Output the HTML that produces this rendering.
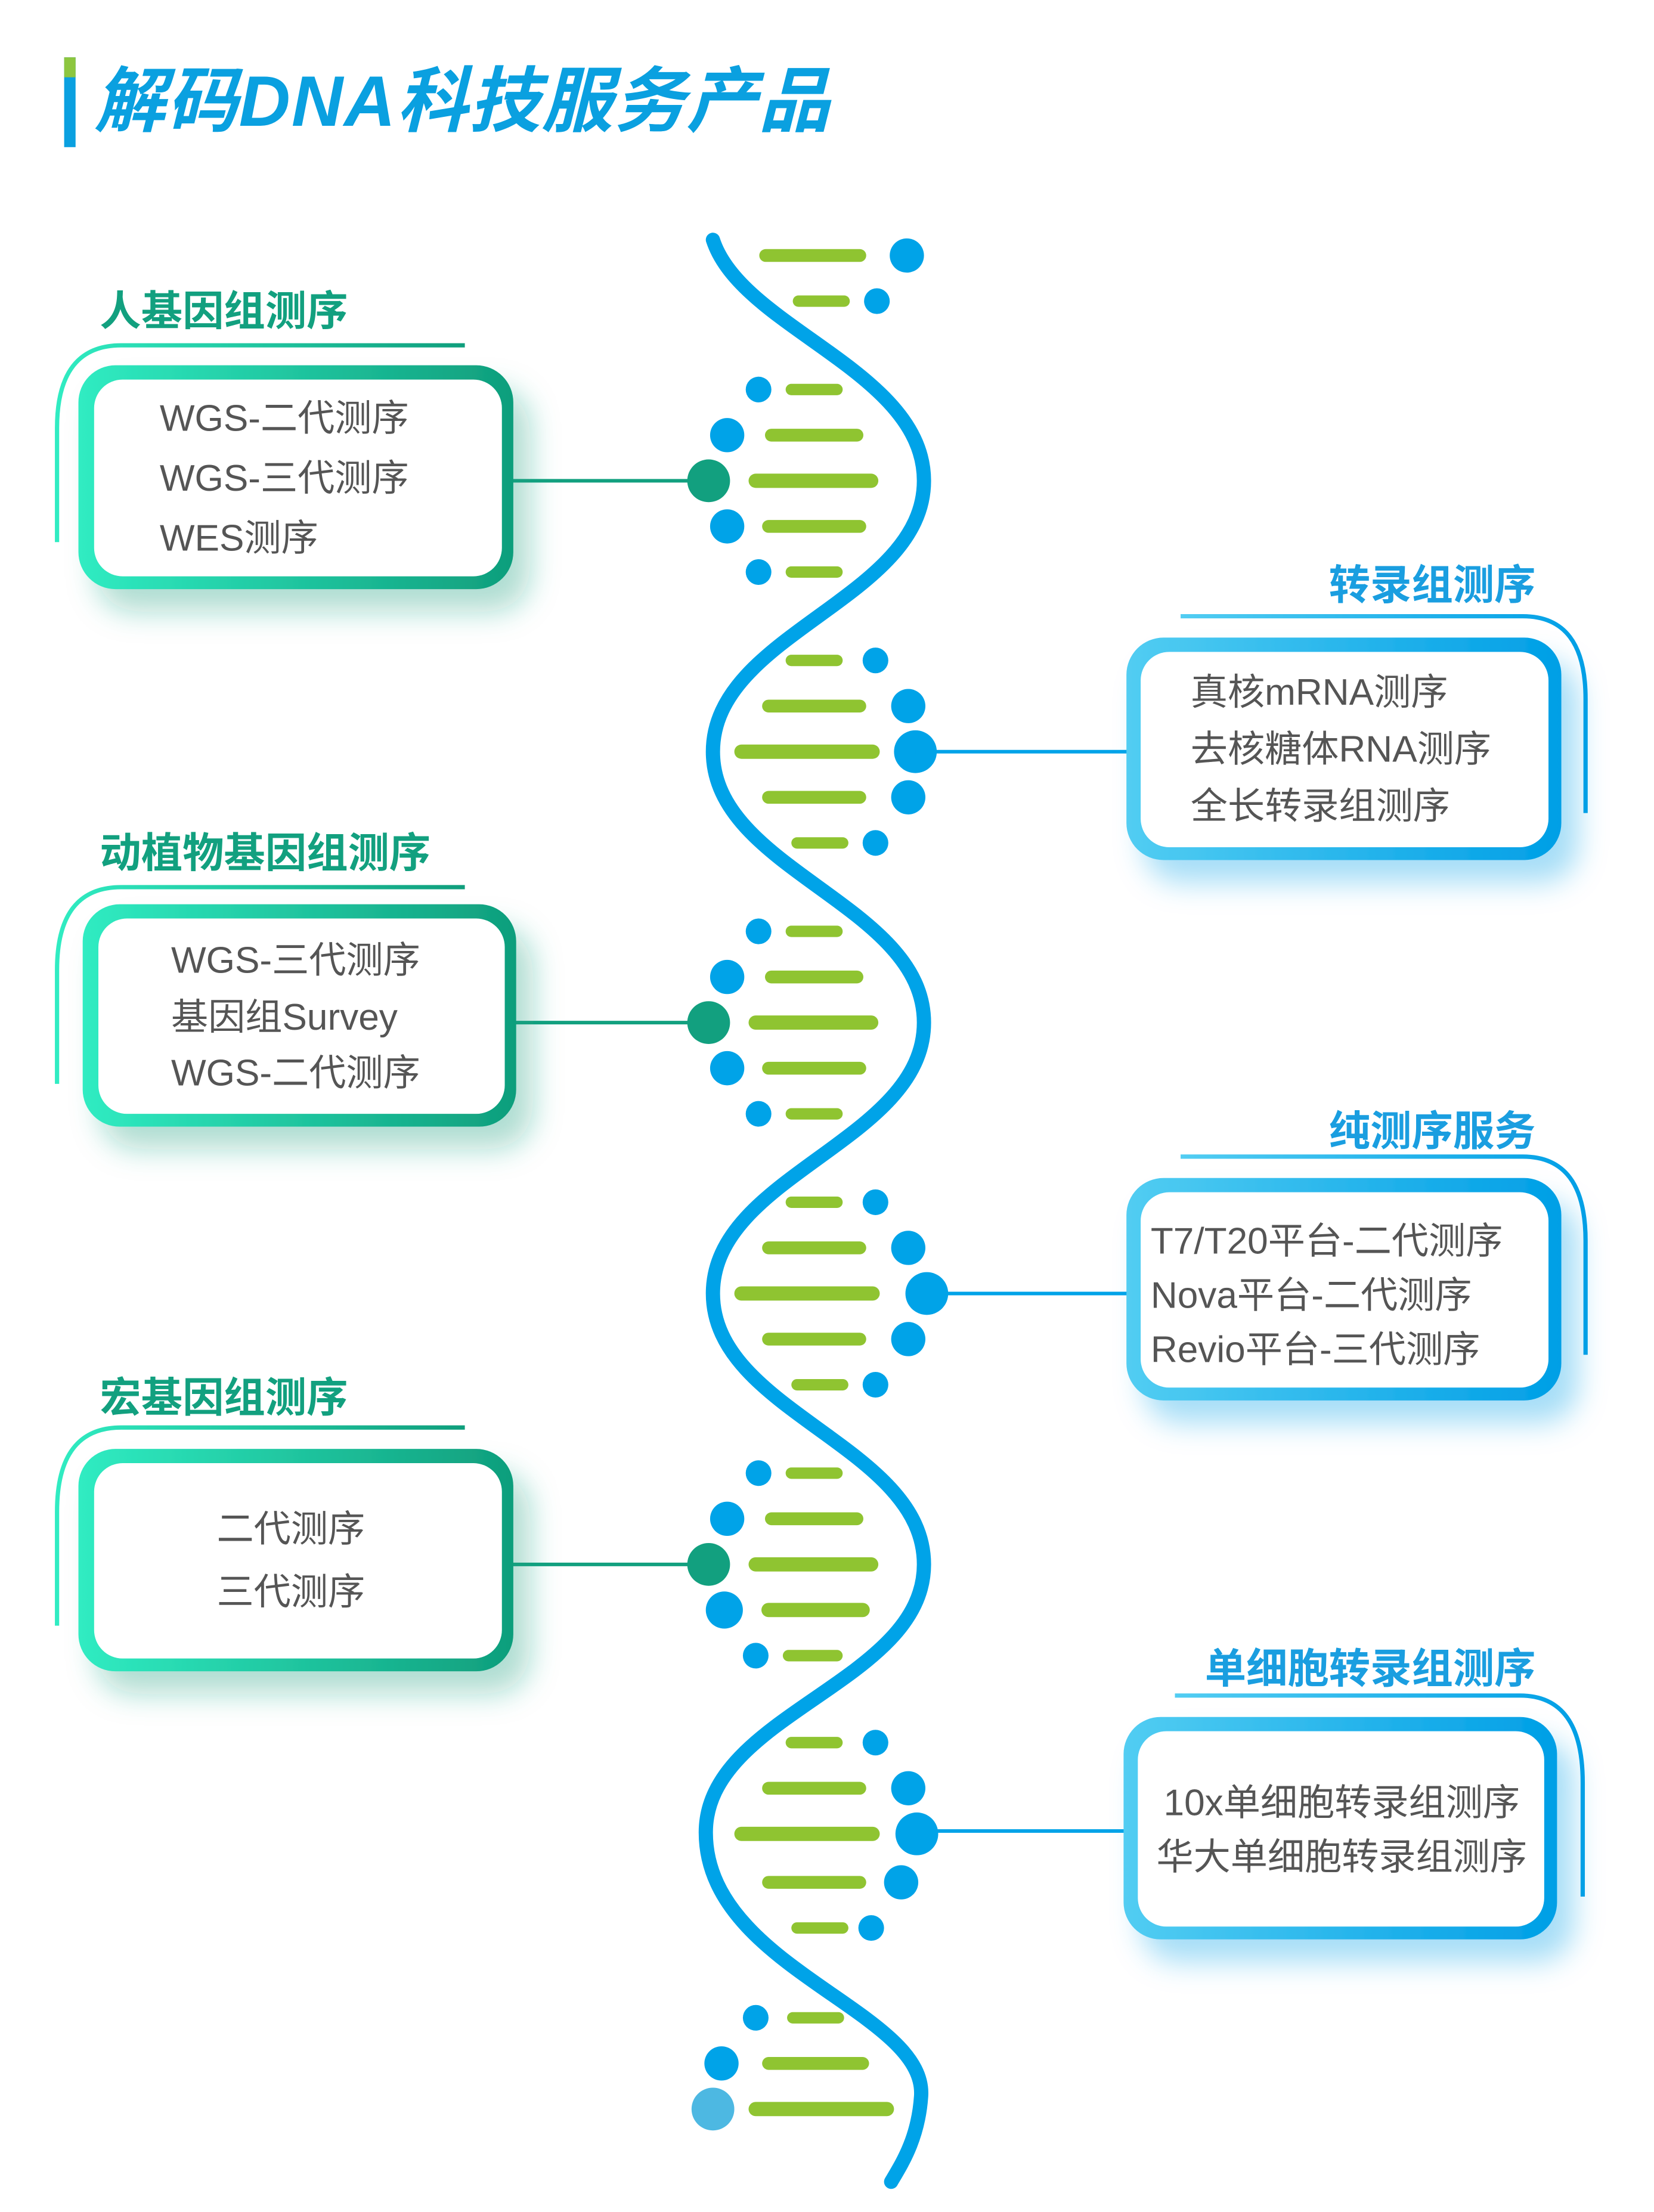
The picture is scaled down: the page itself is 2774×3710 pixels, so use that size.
<!DOCTYPE html>
<html><head><meta charset="utf-8"><style>
html,body{margin:0;padding:0;background:#fff}
svg{display:block}
text{font-family:"Liberation Sans","Noto Sans CJK SC",sans-serif}
</style></head><body>
<svg width="2774" height="3710" viewBox="0 0 1160 1551" xmlns="http://www.w3.org/2000/svg">
<defs>
<linearGradient id="gg" x1="0" x2="1" y1="0" y2="0"><stop offset="0" stop-color="#30ecc2"/><stop offset="1" stop-color="#0f9e7c"/></linearGradient>
<linearGradient id="bg" x1="0" x2="1" y1="0" y2="0"><stop offset="0" stop-color="#52cdf2"/><stop offset="1" stop-color="#009fe6"/></linearGradient>
<filter id="shg" x="-20%" y="-20%" width="150%" height="160%"><feDropShadow dx="12" dy="16" stdDeviation="10" flood-color="#12a07f" flood-opacity="0.35"/></filter>
<filter id="shb" x="-20%" y="-20%" width="150%" height="160%"><feDropShadow dx="12" dy="16" stdDeviation="10" flood-color="#00a0e8" flood-opacity="0.35"/></filter>
</defs>
<!-- title -->
<rect x="45" y="40" width="8" height="63" fill="#0aa0e0"/>
<rect x="45" y="40" width="8" height="14" fill="#8dc63f"/>
<text x="66" y="88" font-size="50" font-weight="bold" font-style="italic" fill="#0aa0e0" textLength="516" lengthAdjust="spacing">解码DNA科技服务产品</text>

<!-- DNA strand -->
<path d="M500,168 C520,230 648,260 648,337 C648,420 500,444 500,527 C500,610 648,634 648,717 C648,800 500,824 500,907 C500,990 648,1014 648,1097 C648,1180 495,1202 495,1285 C495,1380 650,1410 646,1470 C644,1500 632,1518 625,1530" fill="none" stroke="#00a3e8" stroke-width="10" stroke-linecap="round"/>

<g stroke="#8fc431" stroke-linecap="round">
<line x1="537" y1="179" x2="603" y2="179" stroke-width="9"/>
<line x1="560" y1="211" x2="592" y2="211" stroke-width="8"/>
<line x1="555" y1="273" x2="587" y2="273" stroke-width="8"/>
<line x1="541" y1="305" x2="601" y2="305" stroke-width="9"/>
<line x1="530" y1="337" x2="611" y2="337" stroke-width="10"/>
<line x1="539" y1="369" x2="603" y2="369" stroke-width="9"/>
<line x1="555" y1="401" x2="587" y2="401" stroke-width="8"/>
<line x1="555" y1="463" x2="587" y2="463" stroke-width="8"/>
<line x1="539" y1="495" x2="603" y2="495" stroke-width="9"/>
<line x1="520" y1="527" x2="612" y2="527" stroke-width="10"/>
<line x1="539" y1="559" x2="603" y2="559" stroke-width="9"/>
<line x1="559" y1="591" x2="591" y2="591" stroke-width="8"/>
<line x1="555" y1="653" x2="587" y2="653" stroke-width="8"/>
<line x1="541" y1="685" x2="601" y2="685" stroke-width="9"/>
<line x1="530" y1="717" x2="611" y2="717" stroke-width="10"/>
<line x1="539" y1="749" x2="603" y2="749" stroke-width="9"/>
<line x1="555" y1="781" x2="587" y2="781" stroke-width="8"/>
<line x1="555" y1="843" x2="587" y2="843" stroke-width="8"/>
<line x1="539" y1="875" x2="603" y2="875" stroke-width="9"/>
<line x1="520" y1="907" x2="612" y2="907" stroke-width="10"/>
<line x1="539" y1="939" x2="603" y2="939" stroke-width="9"/>
<line x1="559" y1="971" x2="591" y2="971" stroke-width="8"/>
<line x1="555" y1="1033" x2="587" y2="1033" stroke-width="8"/>
<line x1="541" y1="1065" x2="601" y2="1065" stroke-width="9"/>
<line x1="530" y1="1097" x2="611" y2="1097" stroke-width="10"/>
<line x1="539" y1="1129" x2="605" y2="1129" stroke-width="10"/>
<line x1="553" y1="1161" x2="587" y2="1161" stroke-width="8"/>
<line x1="555" y1="1222" x2="587" y2="1222" stroke-width="8"/>
<line x1="539" y1="1254" x2="603" y2="1254" stroke-width="9"/>
<line x1="520" y1="1286" x2="612" y2="1286" stroke-width="10"/>
<line x1="539" y1="1320" x2="603" y2="1320" stroke-width="9"/>
<line x1="559" y1="1352" x2="591" y2="1352" stroke-width="8"/>
<line x1="556" y1="1415" x2="588" y2="1415" stroke-width="8"/>
<line x1="539" y1="1447" x2="605" y2="1447" stroke-width="9"/>
<line x1="530" y1="1479" x2="622" y2="1479" stroke-width="10"/>
</g>

<g fill="#00a3e8">
<circle cx="636" cy="179" r="12"/><circle cx="615" cy="211" r="9"/>
<circle cx="532" cy="273" r="9"/><circle cx="510" cy="305" r="12"/><circle cx="510" cy="369" r="12"/><circle cx="532" cy="401" r="9"/>
<circle cx="614" cy="463" r="9"/><circle cx="637" cy="495" r="12"/><circle cx="642" cy="527" r="15"/><circle cx="637" cy="559" r="12"/><circle cx="614" cy="591" r="9"/>
<circle cx="532" cy="653" r="9"/><circle cx="510" cy="685" r="12"/><circle cx="510" cy="749" r="12"/><circle cx="532" cy="781" r="9"/>
<circle cx="614" cy="843" r="9"/><circle cx="637" cy="875" r="12"/><circle cx="650" cy="907" r="15"/><circle cx="637" cy="939" r="12"/><circle cx="614" cy="971" r="9"/>
<circle cx="532" cy="1033" r="9"/><circle cx="510" cy="1065" r="12"/><circle cx="508" cy="1129" r="13"/><circle cx="530" cy="1161" r="9"/>
<circle cx="614" cy="1222" r="9"/><circle cx="637" cy="1254" r="12"/><circle cx="643" cy="1286" r="15"/><circle cx="632" cy="1320" r="12"/><circle cx="611" cy="1352" r="9"/>
<circle cx="530" cy="1415" r="9"/><circle cx="506" cy="1447" r="12"/>
</g>
<circle cx="500" cy="1479" r="15" fill="#4db8e2"/>

<g stroke-width="2.5">
<line x1="358" y1="337" x2="497" y2="337" stroke="#12a07f"/>
<line x1="360" y1="717" x2="497" y2="717" stroke="#12a07f"/>
<line x1="358" y1="1097" x2="497" y2="1097" stroke="#12a07f"/>
<line x1="642" y1="527" x2="792" y2="527" stroke="#00a3e8"/>
<line x1="650" y1="907" x2="792" y2="907" stroke="#00a3e8"/>
<line x1="643" y1="1284" x2="790" y2="1284" stroke="#00a3e8"/>
</g>
<g fill="#12a07f">
<circle cx="497" cy="337" r="15"/><circle cx="497" cy="717" r="15"/><circle cx="497" cy="1097" r="15"/>
</g>

<g>
<text x="70" y="228" font-size="29" font-weight="bold" fill="#12a07f">人基因组测序</text>
<path d="M326,242 H85 Q40,242 40,300 V380" fill="none" stroke="url(#gg)" stroke-width="3"/>
<g filter="url(#shg)"><rect x="55" y="256" width="305" height="157" rx="26" fill="url(#gg)"/></g>
<rect x="66" y="266" width="286" height="138" rx="20" fill="#fff"/>
<g font-size="26" fill="#555"><text x="112" y="302">WGS-二代测序</text><text x="112" y="344">WGS-三代测序</text><text x="112" y="386">WES测序</text></g>
</g>
<g>
<text x="70" y="608" font-size="29" font-weight="bold" fill="#12a07f">动植物基因组测序</text>
<path d="M326,622 H85 Q40,622 40,680 V760" fill="none" stroke="url(#gg)" stroke-width="3"/>
<g filter="url(#shg)"><rect x="58" y="634" width="304" height="156" rx="26" fill="url(#gg)"/></g>
<rect x="69" y="644" width="285" height="137" rx="20" fill="#fff"/>
<g font-size="26" fill="#555"><text x="120" y="682">WGS-三代测序</text><text x="120" y="722">基因组Survey</text><text x="120" y="761">WGS-二代测序</text></g>
</g>
<g>
<text x="70" y="990" font-size="29" font-weight="bold" fill="#12a07f">宏基因组测序</text>
<path d="M326,1001 H85 Q40,1001 40,1060 V1140" fill="none" stroke="url(#gg)" stroke-width="3"/>
<g filter="url(#shg)"><rect x="55" y="1016" width="305" height="156" rx="26" fill="url(#gg)"/></g>
<rect x="66" y="1026" width="286" height="137" rx="20" fill="#fff"/>
<g font-size="26" fill="#555" text-anchor="middle"><text x="204" y="1081">二代测序</text><text x="204" y="1125">三代测序</text></g>
</g>

<g>
<text x="1077" y="420" font-size="29" font-weight="bold" fill="#1a9ee0" text-anchor="end">转录组测序</text>
<path d="M828,432 H1068 Q1112,432 1112,490 V570" fill="none" stroke="url(#bg)" stroke-width="3"/>
<g filter="url(#shb)"><rect x="790" y="447" width="305" height="156" rx="26" fill="url(#bg)"/></g>
<rect x="800" y="457" width="286" height="137" rx="20" fill="#fff"/>
<g font-size="26" fill="#555"><text x="835" y="494">真核mRNA测序</text><text x="835" y="534">去核糖体RNA测序</text><text x="835" y="574">全长转录组测序</text></g>
</g>
<g>
<text x="1077" y="803" font-size="29" font-weight="bold" fill="#1a9ee0" text-anchor="end">纯测序服务</text>
<path d="M828,811 H1068 Q1112,811 1112,870 V950" fill="none" stroke="url(#bg)" stroke-width="3"/>
<g filter="url(#shb)"><rect x="790" y="826" width="305" height="156" rx="26" fill="url(#bg)"/></g>
<rect x="800" y="836" width="286" height="137" rx="20" fill="#fff"/>
<g font-size="26" fill="#555"><text x="807" y="879">T7/T20平台-二代测序</text><text x="807" y="917">Nova平台-二代测序</text><text x="807" y="955">Revio平台-三代测序</text></g>
</g>
<g>
<text x="1077" y="1180" font-size="29" font-weight="bold" fill="#1a9ee0" text-anchor="end">单细胞转录组测序</text>
<path d="M824,1189 H1066 Q1110,1189 1110,1250 V1330" fill="none" stroke="url(#bg)" stroke-width="3"/>
<g filter="url(#shb)"><rect x="788" y="1204" width="304" height="156" rx="26" fill="url(#bg)"/></g>
<rect x="798" y="1214" width="285" height="137" rx="20" fill="#fff"/>
<g font-size="26" fill="#555" text-anchor="middle"><text x="941" y="1273">10x单细胞转录组测序</text><text x="941" y="1311">华大单细胞转录组测序</text></g>
</g>
</svg>
</body></html>
